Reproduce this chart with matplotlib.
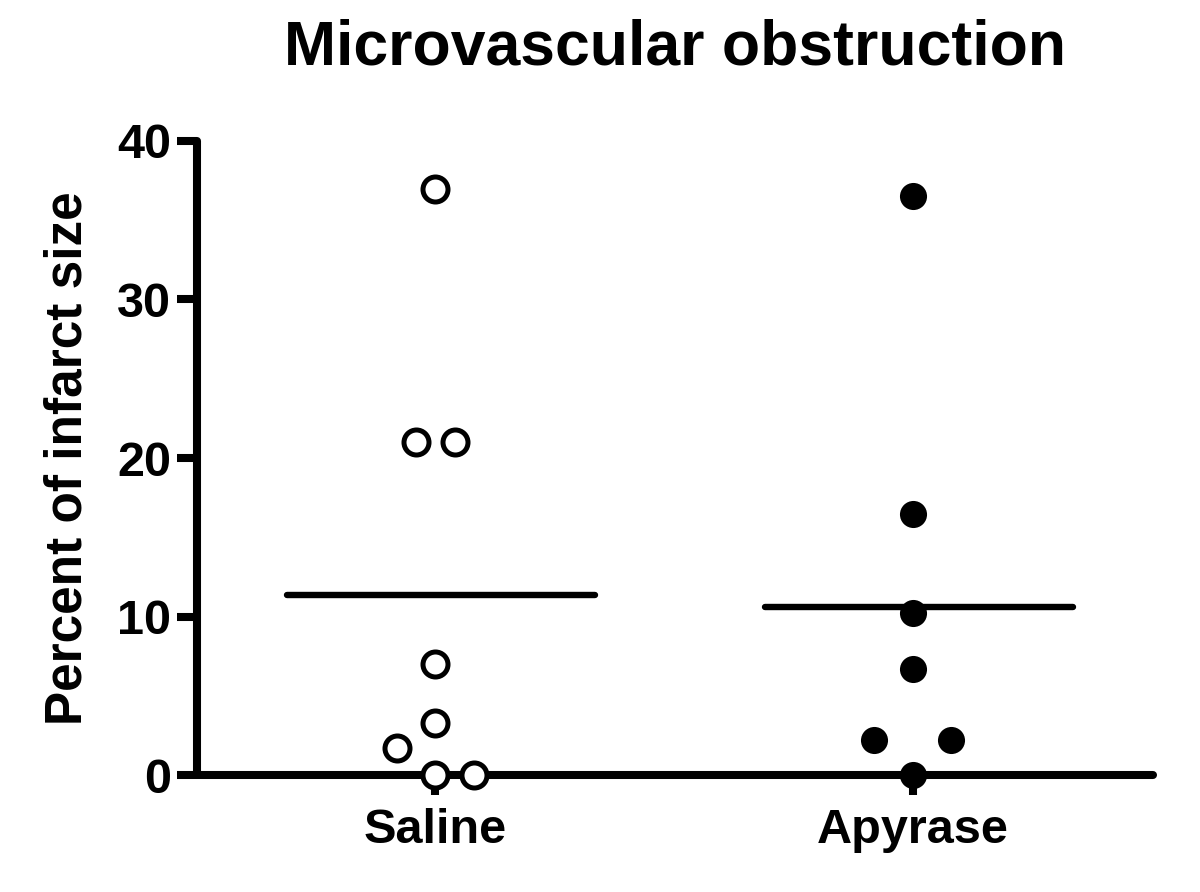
import numpy as np
import matplotlib
matplotlib.use('Agg')
import matplotlib.pyplot as plt

### data ###
groups = ['Saline', 'Apyrase']
saline = [37.0, 21.0, 21.0, 7.0, 3.3, 1.7, 0.0, 0.0]
saline_jit = [0.0, -0.04, 0.04, 0.0, 0.0, -0.08, 0.0, 0.08]
apyrase = [36.5, 16.5, 10.2, 6.7, 2.2, 2.2, 0.0]
apyrase_jit = [0.0, 0.0, 0.0, 0.0, -0.08, 0.08, 0.0]
yticks = [0, 10, 20, 30, 40]

plt.rcParams['font.family'] = ['Liberation Sans', 'DejaVu Sans']
plt.rcParams['font.weight'] = 'bold'

fig = plt.figure(figsize=(12, 8.92), dpi=100)
ax = fig.add_axes([0.164, 0.131, 0.797, 0.711])

lw = 5.8
# points
xs = 1 + np.array(saline_jit)
ax.plot(xs, saline, 'o', ms=18, mfc='white', mec='black', mew=3.6, clip_on=False, zorder=5)
xa = 2 + np.array(apyrase_jit)
ax.plot(xa, apyrase, 'o', ms=19.5, mfc='black', mec='black', mew=0, clip_on=False, zorder=5)

# mean lines
for i, vals in enumerate([saline, apyrase]):
    m = np.mean(vals)
    ax.plot([i + 1 - 0.31, i + 1 + 0.335], [m, m], color='black', lw=4.6, solid_capstyle='round')

ax.set_xlim(0.5, 2.504)
ax.set_ylim(0, 40)
ax.set_xticks([1, 2])
ax.set_xticklabels(groups)
ax.set_yticks(yticks)
ax.tick_params(axis='both', length=14.4, width=lw, labelsize=35, pad=4)
ax.tick_params(axis='x', pad=9)
for t in ax.get_xticklabels() + ax.get_yticklabels():
    t.set_fontweight('bold')

for s in ['top', 'right']:
    ax.spines[s].set_visible(False)
for s in ['left', 'bottom']:
    ax.spines[s].set_linewidth(lw)
    ax.spines[s].set_capstyle('round')

ax.set_ylabel('Percent of infarct size', fontsize=37, fontweight='bold', labelpad=18)
ax.set_title('Microvascular obstruction', fontsize=45, fontweight='bold', pad=55)

fig.savefig('out.png', dpi=100)
